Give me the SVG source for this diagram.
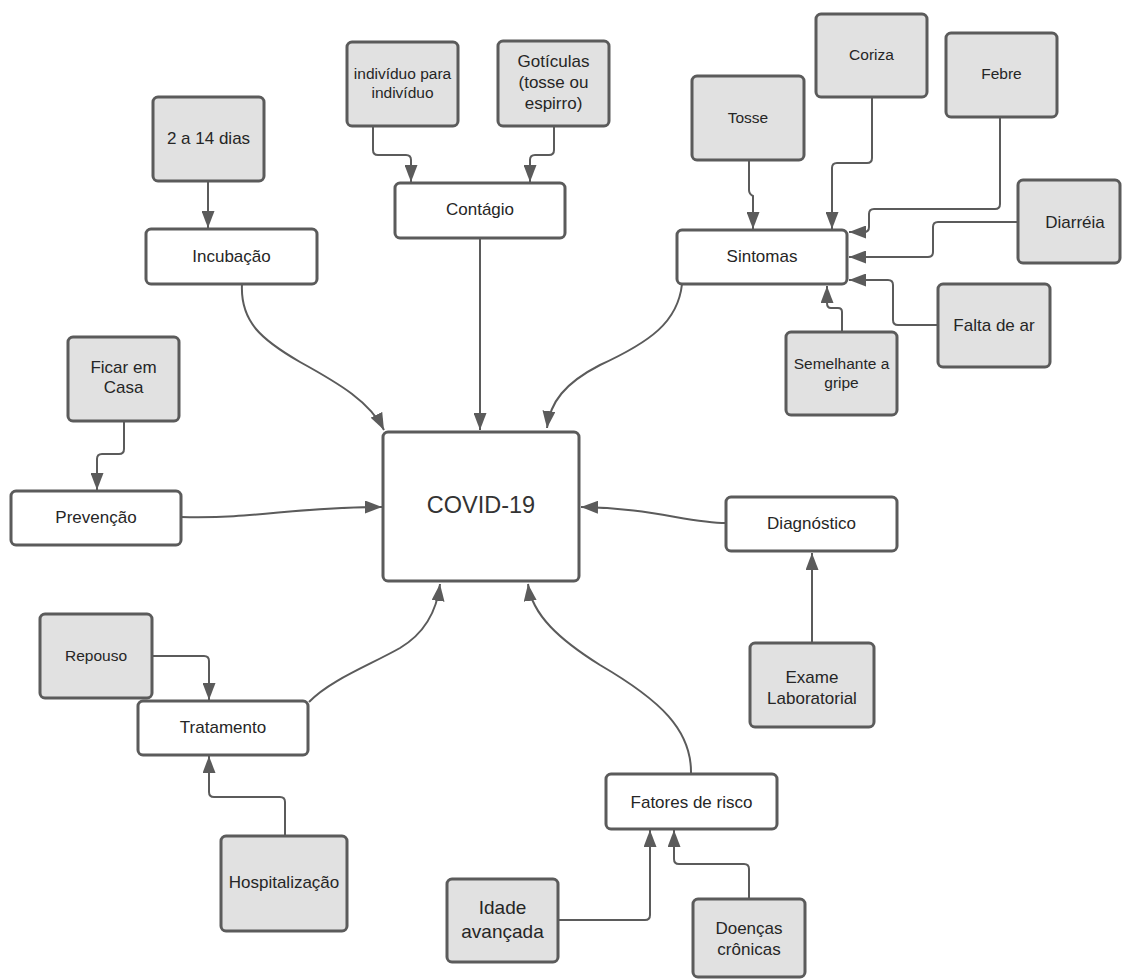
<svg xmlns="http://www.w3.org/2000/svg" width="1122" height="980" viewBox="0 0 1122 980">
<style>
.box{fill:#ffffff;stroke:#5b5b5b;stroke-width:3}
.gray{fill:#e1e1e1;stroke:#5b5b5b;stroke-width:3}
text{font-family:"Liberation Sans",Arial,Helvetica,sans-serif;fill:#262626;text-anchor:middle;dominant-baseline:central;font-size:17px}
.sm{font-size:15.5px}
.lg{font-size:19px}
.xl{font-size:23.5px;fill:#333}
.con{fill:none;stroke:#5b5b5b;stroke-width:2;marker-end:url(#ah)}
</style>
<defs>
<marker id="ah" markerWidth="18" markerHeight="13" refX="17" refY="6.5" orient="auto" markerUnits="userSpaceOnUse">
<path d="M0,0 L17,6.5 L0,13 z" fill="#5b5b5b"/>
</marker>
</defs>
<rect width="1122" height="980" fill="#ffffff"/>
<g id="connectors">
<path class="con" d="M208,181 V228"/>
<path class="con" d="M373,126 V150 Q373,155 378,155 H406 Q411,155 411,160 V182"/>
<path class="con" d="M554,126 V150 Q554,155 549,155 H535 Q530,155 530,160 V182"/>
<path class="con" d="M480,238 V430"/>
<path class="con" d="M242,284 C240,322 262,340 300,362 C340,384 370,402 384,430"/>
<path class="con" d="M682,284 C678,322 650,342 600,365 C565,383 550,402 547,428"/>
<path class="con" d="M749,160 V190 Q749,194 753,196 V229"/>
<path class="con" d="M872,97 V158 Q872,163 867,163 H837 Q832,163 832,168 V229"/>
<path class="con" d="M1000,117 V204 Q1000,209 995,209 H874 Q869,209 869,214 V227 Q869,232 864,232 H849"/>
<path class="con" d="M1018,222 H938 Q933,222 933,227 V252 Q933,257 928,257 H849"/>
<path class="con" d="M938,325 H898 Q893,325 893,320 V285 Q893,280 888,280 H849"/>
<path class="con" d="M842,332 V312 Q842,308 838,308 H831 Q827,308 827,303 V286"/>
<path class="con" d="M124,421 V449 Q124,454 119,454 H102 Q97,454 97,459 V490"/>
<path class="con" d="M181,517 C260,519 290,507 382,507"/>
<path class="con" d="M726,523 C690,523 650,508 581,507"/>
<path class="con" d="M812,643 V553"/>
<path class="con" d="M152,656 H204 Q209,656 209,661 V700"/>
<path class="con" d="M285,836 V802 Q285,797 280,797 H214 Q209,797 209,792 V756"/>
<path class="con" d="M309,702 C330,680 370,665 400,648 C425,633 437,610 440,584"/>
<path class="con" d="M691,774 C692,730 660,700 600,665 C560,640 532,615 528,584"/>
<path class="con" d="M558,920 H645 Q650,920 650,915 V830"/>
<path class="con" d="M749,899 V869 Q749,864 744,864 H679 Q674,864 674,859 V830"/>
</g>
<g id="covid"><rect class="box" x="383" y="432" width="196" height="149" rx="5"/><text class="xl" x="481" y="505">COVID-19</text></g>
<g id="dias"><rect class="gray" x="153" y="97" width="111" height="84" rx="5"/><text x="208.5" y="138">2 a 14 dias</text></g>
<g id="incubacao"><rect class="box" x="146" y="229" width="171" height="55" rx="5"/><text x="231.5" y="256">Incubação</text></g>
<g id="individuo"><rect class="gray" x="347" y="42" width="111" height="84" rx="5"/><text class="sm" x="402.5" y="73">indivíduo para</text><text class="sm" x="402.5" y="92">indivíduo</text></g>
<g id="goticulas"><rect class="gray" x="498" y="41" width="111" height="85" rx="5"/><text x="553.5" y="61">Gotículas</text><text x="553.5" y="82">(tosse ou</text><text x="553.5" y="103">espirro)</text></g>
<g id="contagio"><rect class="box" x="395" y="183" width="170" height="55" rx="5"/><text x="480" y="209">Contágio</text></g>
<g id="tosse"><rect class="gray" x="692" y="76" width="112" height="84" rx="5"/><text class="sm" x="748" y="117">Tosse</text></g>
<g id="coriza"><rect class="gray" x="816" y="14" width="111" height="83" rx="5"/><text class="sm" x="871.5" y="54">Coriza</text></g>
<g id="febre"><rect class="gray" x="946" y="33" width="111" height="84" rx="5"/><text class="sm" x="1001.5" y="73">Febre</text></g>
<g id="diarreia"><rect class="gray" x="1018" y="180" width="102" height="83" rx="5"/><text x="1075" y="222">Diarréia</text></g>
<g id="sintomas"><rect class="box" x="677" y="230" width="170" height="54" rx="5"/><text x="762" y="256">Sintomas</text></g>
<g id="faltadear"><rect class="gray" x="938" y="284" width="112" height="83" rx="5"/><text x="994" y="325">Falta de ar</text></g>
<g id="semelhante"><rect class="gray" x="786" y="332" width="111" height="83" rx="5"/><text class="sm" x="841.5" y="363">Semelhante a</text><text class="sm" x="841.5" y="382">gripe</text></g>
<g id="ficar"><rect class="gray" x="68" y="337" width="111" height="84" rx="5"/><text x="123.5" y="367">Ficar em</text><text x="123.5" y="387">Casa</text></g>
<g id="prevencao"><rect class="box" x="11" y="491" width="170" height="54" rx="5"/><text x="96" y="517">Prevenção</text></g>
<g id="diagnostico"><rect class="box" x="726" y="497" width="171" height="54" rx="5"/><text x="811.5" y="523">Diagnóstico</text></g>
<g id="exame"><rect class="gray" x="750" y="643" width="124" height="84" rx="5"/><text x="812" y="677">Exame</text><text x="812" y="698">Laboratorial</text></g>
<g id="repouso"><rect class="gray" x="40" y="614" width="112" height="84" rx="5"/><text class="sm" x="96" y="655">Repouso</text></g>
<g id="tratamento"><rect class="box" x="138" y="701" width="170" height="54" rx="5"/><text x="223" y="727">Tratamento</text></g>
<g id="hospitalizacao"><rect class="gray" x="221" y="836" width="126" height="95" rx="5"/><text x="284" y="882">Hospitalização</text></g>
<g id="fatores"><rect class="box" x="606" y="774" width="171" height="55" rx="5"/><text x="691.5" y="802">Fatores de risco</text></g>
<g id="idade"><rect class="gray" x="447" y="879" width="111" height="83" rx="5"/><text class="lg" x="502.5" y="907">Idade</text><text class="lg" x="502.5" y="931">avançada</text></g>
<g id="doencas"><rect class="gray" x="693" y="899" width="112" height="78" rx="5"/><text x="749" y="928">Doenças</text><text x="749" y="949">crônicas</text></g>
</svg>
